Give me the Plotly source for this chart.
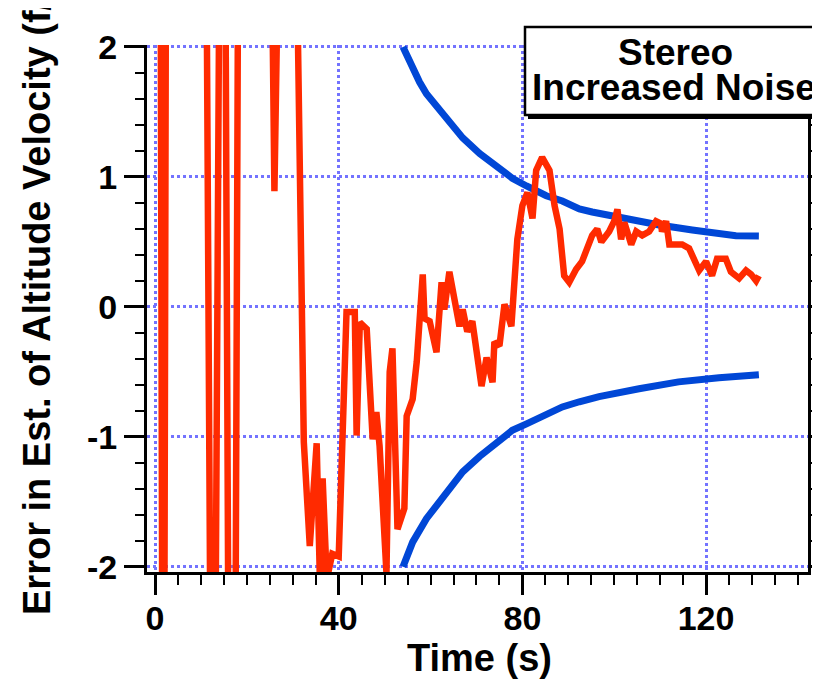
import plotly.graph_objects as go

# ---------------- data ----------------
t_red = [1.0, 1.8, 2.6, 10.66, 12.61, 14.55, 14.9, 16.4, 17.15, 18.45,
         24.4, 26.0, 28.3, 29.5, 32.4, 33.7, 35.2, 35.9, 36.5, 37.4,
         38.6, 40.0, 41.7, 43.5, 43.9, 44.6, 46.1, 47.4, 48.2, 48.9,
         50.4, 51.1, 51.7, 52.8, 54.3, 54.8, 56.1, 57.0, 58.3, 58.7,
         59.8, 61.3, 62.4, 63.0, 64.1, 66.3, 67.0, 68.0, 69.1, 71.1,
         72.2, 73.5, 73.9, 75.0, 76.1, 77.6, 78.3, 78.9, 80.0, 81.1,
         82.2, 83.0, 84.3, 85.9, 87.0, 88.1, 89.1, 90.2, 91.7, 93.0,
         95.2, 96.3, 97.2, 98.9, 100.0, 100.7, 101.5, 102.2, 103.7, 104.8,
         106.1, 107.6, 109.1, 110.2, 110.4, 111.3, 112.0, 114.8, 116.3, 118.5,
         120.0, 121.3, 122.4, 124.3, 125.4, 127.2, 128.7, 129.8, 130.9, 131.5]
v_red = [6, -6, 6, 6, -6, 6, 6, -6, -6, 6,
         6, 0.89, 6, 6, -1.04, -1.84, -1.05, -2.1, -1.32, -2.1,
         -1.9, -1.92, -0.04, -0.04, -0.99, -0.12, -0.17, -1.02, -0.81, -1.07,
         -2.05, -0.5, -0.32, -1.71, -1.55, -0.84, -0.71, -0.42, 0.25, -0.09,
         -0.11, -0.35, 0.19, -0.02, 0.27, -0.15, -0.02, -0.19, -0.11, -0.61,
         -0.39, -0.58, -0.27, -0.3, 0.02, -0.15, 0.19, 0.52, 0.78, 0.88,
         0.68, 1.05, 1.15, 1.05, 0.78, 0.6, 0.24, 0.19, 0.29, 0.35,
         0.55, 0.6, 0.5, 0.58, 0.66, 0.75, 0.52, 0.65, 0.48, 0.58,
         0.55, 0.58, 0.66, 0.64, 0.58, 0.66, 0.48, 0.48, 0.45, 0.28,
         0.35, 0.24, 0.37, 0.37, 0.27, 0.22, 0.28, 0.25, 0.2, 0.24]

t_upper = [54.0, 56.1, 57.6, 59.1, 63.5, 67.0, 70.7, 74.3, 77.8, 80.9,
           85.2, 88.7, 92.4, 95.2, 102.6, 109.8, 117.0, 120.7, 126.5, 131.5]
v_upper = [2.0, 1.83, 1.73, 1.64, 1.44, 1.30, 1.18, 1.08, 0.99, 0.93,
           0.855, 0.815, 0.754, 0.73, 0.677, 0.63, 0.592, 0.577, 0.548, 0.546]

t_lower = [54.0, 56.1, 59.1, 63.5, 67.0, 70.7, 74.3, 77.8, 80.9, 83.7,
           88.7, 92.4, 96.7, 105.4, 114.0, 122.8, 131.5]
v_lower = [-2.0, -1.81, -1.63, -1.42, -1.27, -1.15, -1.04, -0.95, -0.9, -0.85,
           -0.77, -0.73, -0.69, -0.63, -0.577, -0.546, -0.523]

y_tick_vals = [-2, -1, 0, 1, 2]
y_tick_labels = ["-2", "-1", "0", "1", "2"]
x_tick_vals = [0, 40, 80, 120]
x_tick_labels = ["0", "40", "80", "120"]

x_title = "Time (s)"
y_title = "Error in Est. of Altitude Velocity (f/s)"
box_lines = ["Stereo", "Increased Noise"]

# ---------------- layout helpers ----------------
OFF = 8                      # page body margin offsets the figure
W, H = 820 - OFF, 683 - OFF
L, R, T, B = 147, 808, 45, 572   # plot area in window pixels


def px(x):
    return (x - L) / (R - L)


def py(y):
    return (B - y) / (B - T)


FONT = "Liberation Sans, Arial, Helvetica, sans-serif"
RED = "#ff2a00"
BLUE = "#0047d6"
GRID = "#7373ff"

fig = go.Figure()
fig.add_trace(go.Scatter(x=t_upper, y=v_upper, mode="lines",
                         line=dict(color=BLUE, width=7)))
fig.add_trace(go.Scatter(x=t_lower, y=v_lower, mode="lines",
                         line=dict(color=BLUE, width=7)))
fig.add_trace(go.Scatter(x=t_red, y=v_red, mode="lines",
                         line=dict(color=RED, width=6.5)))

fig.update_layout(
    width=W, height=H,
    margin=dict(l=L - OFF, r=W - (R - OFF), t=T - OFF, b=H - (B - OFF),
                autoexpand=False),
    paper_bgcolor="white", plot_bgcolor="white",
    showlegend=False,
    font=dict(family=FONT, color="black"),
)

fig.update_xaxes(
    range=[-1.75, 142.2],
    tickmode="array", tickvals=x_tick_vals, ticktext=x_tick_labels,
    ticks="outside", ticklen=20, tickwidth=2.5, tickcolor="black",
    ticklabelstandoff=-6,
    tickfont=dict(family=FONT, size=34, weight="bold", color="black"),
    showline=True, linecolor="black", linewidth=3, mirror=False,
    showgrid=True, gridcolor=GRID, gridwidth=2.5, griddash="dot",
    zeroline=False,
    minor=dict(tick0=0, dtick=5, ticks="outside", ticklen=10, tickwidth=2,
               tickcolor="black", showgrid=False),
)
fig.update_yaxes(
    range=[-2.04, 2.015],
    tickmode="array", tickvals=y_tick_vals, ticktext=y_tick_labels,
    ticks="outside", ticklen=20, tickwidth=2.5, tickcolor="black",
    tickfont=dict(family=FONT, size=34, weight="bold", color="black"),
    showline=True, linecolor="black", linewidth=3, mirror="ticks",
    showgrid=True, gridcolor=GRID, gridwidth=2.5, griddash="dot",
    zeroline=False,
    minor=dict(tick0=0, dtick=0.2, ticks="outside", ticklen=9, tickwidth=2,
               tickcolor="black", showgrid=False),
)

# axis titles
fig.add_annotation(text=x_title, xref="paper", yref="paper",
                   x=px(479), y=py(658), xanchor="center", yanchor="middle",
                   showarrow=False,
                   font=dict(family=FONT, size=38, weight="bold", color="black"))
fig.add_annotation(text=y_title, xref="paper", yref="paper",
                   x=px(37), y=py(291), xanchor="center", yanchor="middle",
                   textangle=-90, showarrow=False,
                   font=dict(family=FONT, size=38, weight="bold", color="black"))

# label box with drop shadow
fig.add_shape(type="rect", xref="paper", yref="paper", layer="above",
              x0=px(528), x1=px(835), y0=py(30), y1=py(119),
              fillcolor="black", line=dict(width=0))
fig.add_shape(type="rect", xref="paper", yref="paper", layer="above",
              x0=px(525), x1=px(832), y0=py(27), y1=py(115),
              fillcolor="white", line=dict(color="black", width=2.5))
fig.add_annotation(text=box_lines[0], xref="paper", yref="paper",
                   x=px(675), y=py(52), xanchor="center", yanchor="middle",
                   showarrow=False,
                   font=dict(family=FONT, size=37, weight="bold", color="black"))
fig.add_annotation(text=box_lines[1], xref="paper", yref="paper",
                   x=px(674), y=py(87), xanchor="center", yanchor="middle",
                   showarrow=False,
                   font=dict(family=FONT, size=37, weight="bold", color="black"))

fig.write_html("out.html")
